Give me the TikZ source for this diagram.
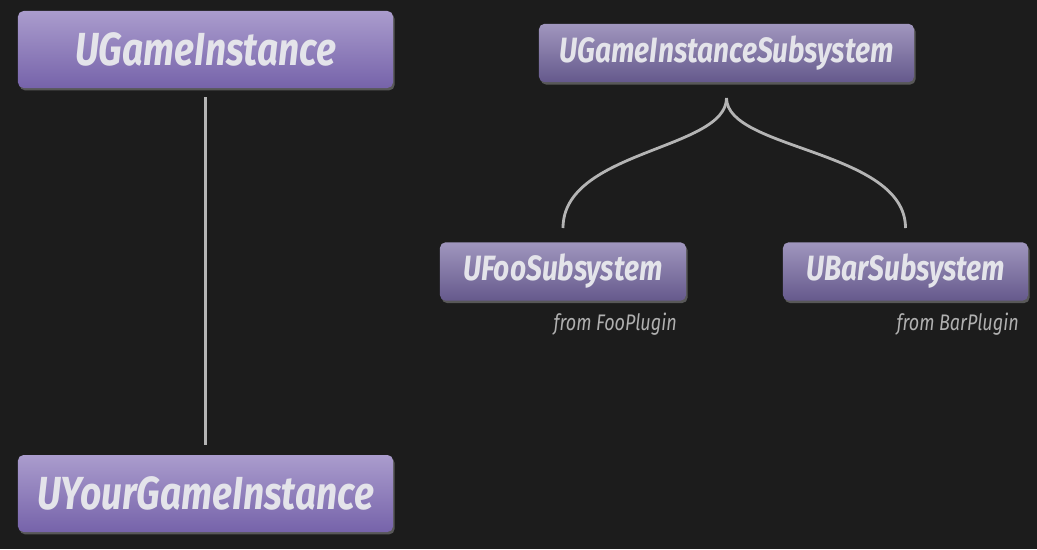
\documentclass[tikz,border=0pt]{standalone}
\usepackage{fontspec}
\usepackage{tikz}
\usetikzlibrary{positioning,shadows}
\newfontfamily\boxfont[FakeStretch=0.8]{Fira Sans}
\definecolor{cbg}{HTML}{1C1C1C}
\definecolor{cvioTop}{HTML}{AA9CCD}
\definecolor{cvioBot}{HTML}{7663AA}
\definecolor{cgrayTop}{HTML}{A096BE}
\definecolor{cgrayBot}{HTML}{65598C}
\definecolor{ctext}{HTML}{E4E4EA}
\definecolor{cline}{HTML}{B4B4B4}
\definecolor{cnote}{HTML}{B0B0B0}
\tikzset{
  classbox/.style={rounded corners=0.14cm,inner sep=0pt,text=ctext,
    drop shadow={opacity=0.6,shadow xshift=0.04cm,shadow yshift=-0.06cm},
    font=\boxfont\bfseries\itshape},
  mainbox/.style={classbox,top color=cvioTop,bottom color=cvioBot,
    minimum width=9.375cm,minimum height=1.925cm,font=\boxfont\bfseries\itshape\fontsize{33}{38}\selectfont},
  subbox/.style={classbox,top color=cgrayTop,bottom color=cgrayBot,
    minimum height=1.46cm,font=\boxfont\bfseries\itshape\fontsize{25}{30}\selectfont},
  link/.style={cline,line width=2pt},
  note/.style={text=cnote,inner sep=0pt,font=\boxfont\itshape\fontsize{16}{19}\selectfont}
}

\begin{document}
\begin{tikzpicture}[x=0.025cm,y=-0.025cm]

\fill[cbg] (0,0) rectangle (1037,549);

% ============ Left: class and child ============
\node[mainbox] (gi) at (205.5,49.5) {UGameInstance};
\node[mainbox] (ygi) at (205.5,493.5) {UYourGameInstance};
\draw[link,shorten <=0.22cm,shorten >=0.25cm] (gi.south) -- (ygi.north);

% ============ Right: subsystem and plugins ============
\node[subbox,minimum width=9.375cm] (gis) at (726.5,53) {UGameInstanceSubsystem};
\node[subbox,minimum width=6.15cm] (foo) at (563,271.5) {UFooSubsystem};
\node[subbox,minimum width=6.125cm] (bar) at (905.5,271.5) {UBarSubsystem};
\node[note,anchor=north east] (foonote) at (677,313) {from FooPlugin};
\node[note,anchor=north east] (barnote) at (1019,313) {from BarPlugin};

\coordinate (cusp) at (gis.south |- 0,98);
\coordinate (footop) at (foo.north |- 0,228);
\coordinate (bartop) at (bar.north |- 0,228);
\draw[link] (cusp) .. controls +(0,52) and +(0,-78) .. (footop);
\draw[link] (cusp) .. controls +(0,52) and +(0,-78) .. (bartop);

\end{tikzpicture}
\end{document}
